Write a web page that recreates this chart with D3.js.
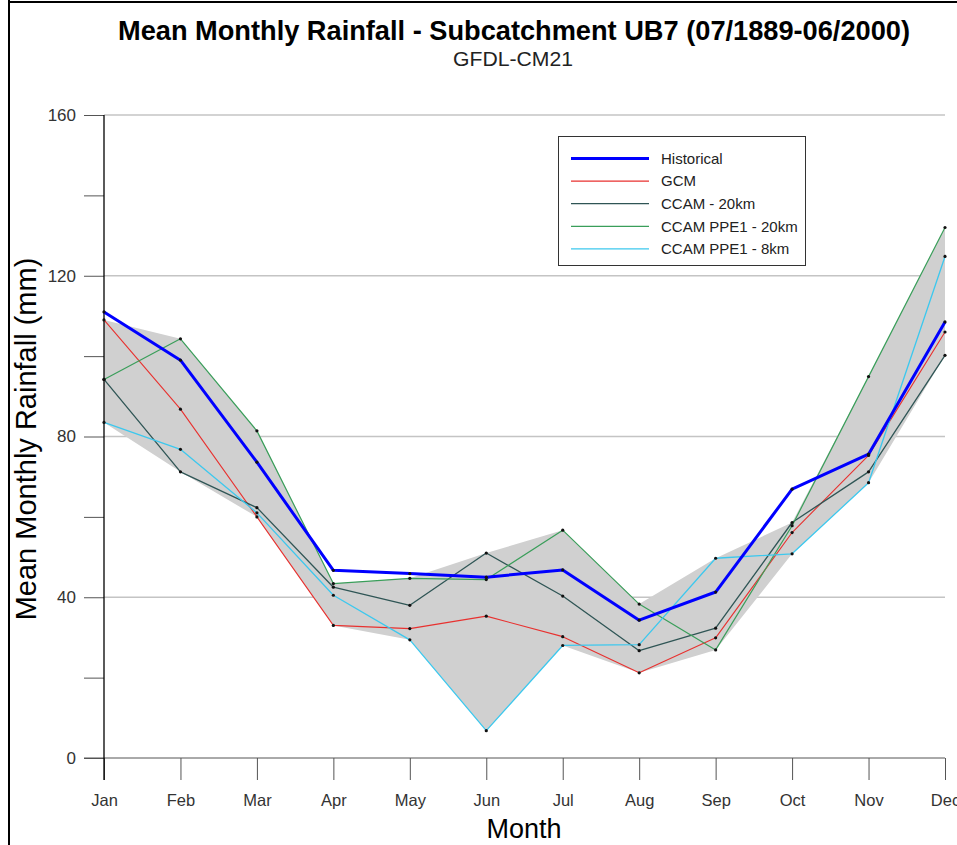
<!DOCTYPE html>
<html>
<head>
<meta charset="utf-8">
<script src="https://cdn.jsdelivr.net/npm/d3@7"></script>
<style>
  html, body { margin: 0; padding: 0; background: #fff; }
  svg { display: block; font-family: "Liberation Sans", Arial, sans-serif; }
</style>
</head>
<body>
<svg id="chart" width="957" height="845"></svg>
<script>
const months = ["Jan","Feb","Mar","Apr","May","Jun","Jul","Aug","Sep","Oct","Nov","Dec"];
const historical = [111.0, 99.0, 73.6, 46.7, 45.9, 45.0, 46.8, 34.3, 41.3, 66.9, 75.6, 108.5];
const gcm        = [109.0, 86.8, 60.0, 33.0, 32.2, 35.3, 30.2, 21.2, 29.9, 56.1, 75.3, 106.0];
const ccam20     = [94.2, 71.2, 62.3, 42.5, 38.0, 51.0, 40.3, 26.7, 32.3, 58.6, 71.2, 100.2];
const ppe20      = [94.2, 104.3, 81.4, 43.4, 44.7, 44.4, 56.7, 38.3, 26.9, 57.8, 94.9, 132.0];
const ppe8       = [83.5, 76.8, 61.0, 40.5, 29.4, 6.8, 28.0, 28.2, 49.7, 50.8, 68.5, 124.8];
const yMajorTicks = [0, 40, 80, 120, 160];
const yMinorTicks = [20, 60, 100, 140];
const seriesNames = ["Historical", "GCM", "CCAM - 20km", "CCAM PPE1 - 20km", "CCAM PPE1 - 8km"];

const series = [
  { name: seriesNames[0], values: historical, color: "#0000ff", width: 3 },
  { name: seriesNames[1], values: gcm,        color: "#e8312f", width: 1.1 },
  { name: seriesNames[2], values: ccam20,     color: "#2f5555", width: 1.3 },
  { name: seriesNames[3], values: ppe20,      color: "#3a9e5a", width: 1.2 },
  { name: seriesNames[4], values: ppe8,       color: "#3cc8ee", width: 1.3 }
];
const models = [gcm, ccam20, ppe20, ppe8];

const svg = d3.select("#chart");
svg.append("rect").attr("width", 957).attr("height", 845).attr("fill", "#fff");

// outer border (left and top)
svg.append("line").attr("x1", 9).attr("x2", 9).attr("y1", 0).attr("y2", 845)
  .attr("stroke", "#000").attr("stroke-width", 2);
svg.append("line").attr("x1", 9).attr("x2", 957).attr("y1", 2).attr("y2", 2)
  .attr("stroke", "#000").attr("stroke-width", 2);

const x = d3.scalePoint().domain(months).range([104, 945]);
const y = d3.scaleLinear().domain([0, 160]).range([758, 115]);

// gridlines
svg.append("g").selectAll("line").data(yMajorTicks.filter(d => d > 0)).join("line")
  .attr("x1", 104).attr("x2", 945)
  .attr("y1", d => y(d)).attr("y2", d => y(d))
  .attr("stroke", "#c4c4c4").attr("stroke-width", 1.5);

// envelope
const area = d3.area()
  .x((d, i) => x(months[i]))
  .y0((d, i) => y(d3.min(models, s => s[i])))
  .y1((d, i) => y(d3.max(models, s => s[i])));
svg.append("path").datum(months).attr("d", area).attr("fill", "#d0d0d0");

// y axis
const yAxisMajor = d3.axisLeft(y).tickValues(yMajorTicks).tickSize(20).tickPadding(8);
const gy = svg.append("g").attr("transform", "translate(104,0)").call(yAxisMajor);
gy.select(".domain").remove();
gy.selectAll(".tick line").attr("stroke", "#555");
gy.selectAll(".tick text").attr("font-size", 17).attr("fill", "#333")
  .attr("font-family", "Liberation Sans, Arial, sans-serif");
const gyMinor = svg.append("g").attr("transform", "translate(104,0)")
  .call(d3.axisLeft(y).tickValues(yMinorTicks).tickSize(20).tickFormat(""));
gyMinor.select(".domain").remove();
gyMinor.selectAll(".tick line").attr("stroke", "#555");

// x axis
const gx = svg.append("g").attr("transform", "translate(0,758)")
  .call(d3.axisBottom(x).tickSize(22).tickPadding(14));
gx.select(".domain").attr("d", "M84,0H945").attr("stroke", "#555");
gx.selectAll(".tick line").attr("stroke", "#555");
gx.selectAll(".tick text").attr("font-size", 16.5).attr("fill", "#333")
  .attr("font-family", "Liberation Sans, Arial, sans-serif");

// y axis main line
svg.append("line").attr("x1", 104).attr("x2", 104).attr("y1", 115).attr("y2", 780)
  .attr("stroke", "#000").attr("stroke-width", 1.3);

// lines (draw order: models then historical on top)
const line = d3.line().x((d, i) => x(months[i])).y(d => y(d));
const drawOrder = [1, 2, 3, 4, 0];
drawOrder.forEach(k => {
  const s = series[k];
  svg.append("path").datum(s.values).attr("d", line)
    .attr("fill", "none").attr("stroke", s.color).attr("stroke-width", s.width)
    .attr("stroke-linejoin", "round");
});
// point markers
series.forEach(s => {
  svg.append("g").selectAll("circle").data(s.values).join("circle")
    .attr("cx", (d, i) => x(months[i])).attr("cy", d => y(d))
    .attr("r", 1.6).attr("fill", "#111");
});

// legend
const lg = svg.append("g");
lg.append("rect").attr("x", 558.5).attr("y", 136.5).attr("width", 247).attr("height", 129)
  .attr("fill", "#fff").attr("stroke", "#333").attr("stroke-width", 1);
series.forEach((s, i) => {
  const yy = 158.5 + i * 22.6;
  lg.append("line").attr("x1", 571).attr("x2", 649).attr("y1", yy).attr("y2", yy)
    .attr("stroke", s.color).attr("stroke-width", s.width);
  lg.append("text").attr("x", 661).attr("y", yy).attr("dy", "0.35em")
    .attr("font-size", 15).attr("fill", "#222").text(s.name);
});

// titles
svg.append("text").attr("x", 514).attr("y", 40).attr("text-anchor", "middle")
  .attr("font-size", 28).attr("font-weight", "bold").attr("fill", "#000")
  .attr("textLength", 792).attr("lengthAdjust", "spacingAndGlyphs")
  .text("Mean Monthly Rainfall - Subcatchment UB7 (07/1889-06/2000)");
svg.append("text").attr("x", 513).attr("y", 66).attr("text-anchor", "middle")
  .attr("font-size", 21).attr("fill", "#222")
  .attr("textLength", 120).attr("lengthAdjust", "spacingAndGlyphs")
  .text("GFDL-CM21");
svg.append("text").attr("x", 524).attr("y", 838).attr("text-anchor", "middle")
  .attr("font-size", 27).attr("fill", "#000").text("Month");
svg.append("text").attr("transform", "translate(36,439) rotate(-90)").attr("text-anchor", "middle")
  .attr("font-size", 29).attr("fill", "#000").text("Mean Monthly Rainfall (mm)");
</script>
</body>
</html>
